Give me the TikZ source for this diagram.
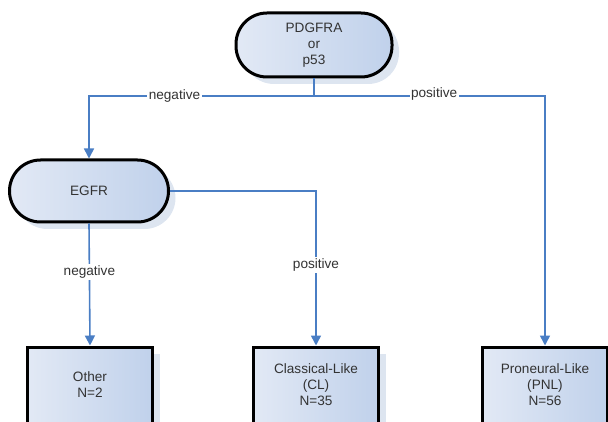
\documentclass[tikz,border=0pt]{standalone}
\usepackage{fontspec}
\setmainfont{Liberation Sans}
\usetikzlibrary{arrows.meta,shadows}
\definecolor{linec}{HTML}{4A7EC4}
\definecolor{txtc}{HTML}{333333}
\definecolor{fillL}{HTML}{E2E9F5}
\definecolor{fillR}{HTML}{C0D1EB}
\definecolor{shadc}{HTML}{DDE5F0}
\tikzset{
  x=1pt,y=1pt,
  base/.style={draw=black,line width=3pt,text=txtc,align=center,
    font=\fontsize{13.6}{16}\selectfont,inner sep=0pt,
    left color=fillL,right color=fillR,
    drop shadow={shadow xshift=7pt,shadow yshift=-7pt,fill=shadc,opacity=1}},
  pill/.style={base,rounded corners=31pt},
  leaf/.style={base,minimum width=125pt,minimum height=76pt},
  conn/.style={draw=linec,line width=1.6pt},
  arr/.style={conn,-{Triangle[length=10pt,width=10pt]}},
  lbl/.style={fill=white,inner sep=1.5pt,text=txtc,font=\fontsize{13.6}{15}\selectfont}
}
\begin{document}
\begin{tikzpicture}
\useasboundingbox (0,0) rectangle (608,421);
\clip (0,0) rectangle (608,421);
\node[pill,minimum width=156pt,minimum height=64pt] (top) at (314,376) {PDGFRA\\or\\p53};
\node[pill,minimum width=159pt,minimum height=62pt] (egfr) at (89,230) {EGFR};
\node[leaf] (other) at (90,36) {Other\\N=2};
\node[leaf] (cl) at (316,36) {Classical-Like\\(CL)\\N=35};
\node[leaf] (pnl) at (545,36) {Proneural-Like\\(PNL)\\N=56};
\coordinate (j) at (top.south |- 0,325);
\draw[conn] (top.south) -- (j);
\draw[arr] (j) -| node[lbl,pos=0.31] {negative} (egfr.north);
\draw[arr] (j) -| node[lbl,pos=0.26,yshift=2pt] {positive} (pnl.north);
\draw[arr] (egfr.east) -| node[lbl,pos=0.74] {positive} (cl.north);
\draw[arr] (egfr.south) -- node[lbl,pos=0.4] {negative} (other.north);
\end{tikzpicture}
\end{document}
